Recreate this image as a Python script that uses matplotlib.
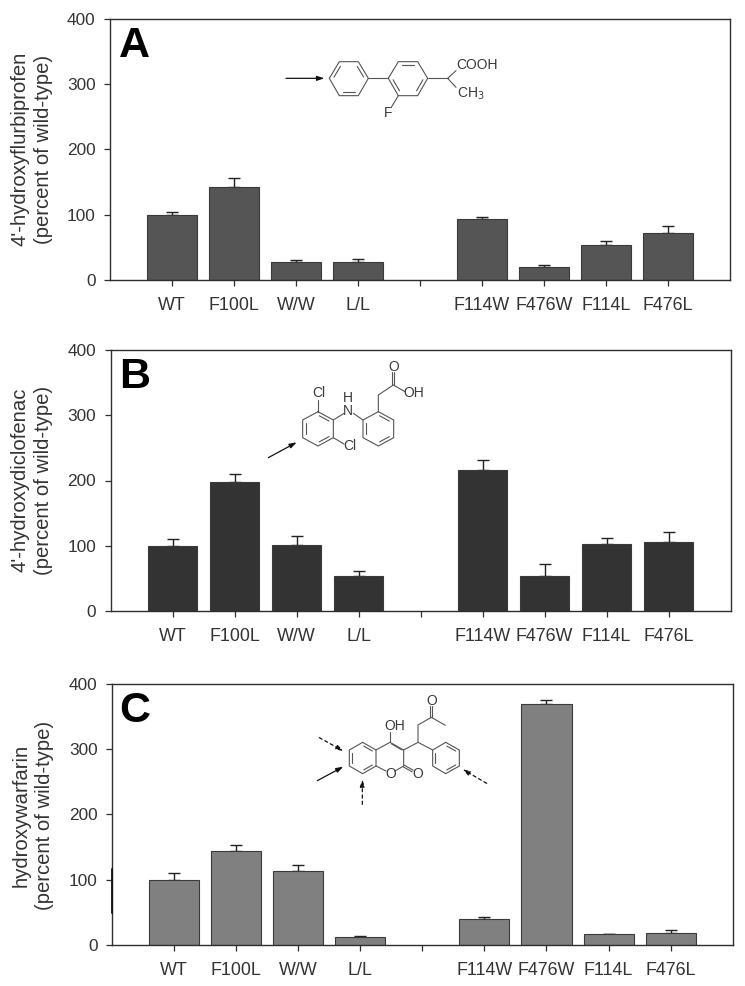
import numpy as np
import matplotlib
matplotlib.use("Agg")
import matplotlib.pyplot as plt

plt.rcParams['font.family'] = ['Liberation Sans', 'DejaVu Sans']

# ---------- data ----------
categories = ['WT', 'F100L', 'W/W', 'L/L', '', 'F114W', 'F476W', 'F114L', 'F476L']
yticks = [0, 100, 200, 300, 400]

values_a = [100, 142, 27, 27, np.nan, 94, 19.5, 53.5, 71.5]
errors_a = [3.5, 14, 4, 5, np.nan, 2.5, 3.5, 6.5, 11.5]

values_b = [100, 197, 101, 54, np.nan, 216, 54, 103.5, 105.5]
errors_b = [11, 13, 14, 7, np.nan, 16, 18.5, 9, 15]

values_c = [99.5, 143.5, 113, 13, np.nan, 39.5, 369.5, 16.5, 18.5]
errors_c = [10.5, 9, 9, 1.5, np.nan, 4, 5.5, 1, 4]

ylabel_a = "4'-hydroxyflurbiprofen\n(percent of wild-type)"
ylabel_b = "4'-hydroxydiclofenac\n(percent of wild-type)"
ylabel_c = "hydroxywarfarin\n(percent of wild-type)"

W, H = 745, 986
fig = plt.figure(figsize=(W / 100, H / 100), dpi=100, facecolor='white')
INK = '#2e2e2e'
TEXT = '#333333'


def panel(box, vals, errs, color, ylabel, ylab_xy, letter, letter_xy):
    l, t, r, b = box
    ax = fig.add_axes([l / W, 1 - b / H, (r - l) / W, (b - t) / H])
    x = np.arange(len(categories))
    ax.bar(x, vals, width=0.806, color=color, edgecolor='#3a3a3a', linewidth=0.8, zorder=2)
    ax.errorbar(x, vals, yerr=[np.zeros(len(vals)), errs], fmt='none', ecolor='#222222',
                elinewidth=1.0, capsize=4.6, capthick=1.0, zorder=1)
    ax.set_xlim(-1, 9)
    ax.set_ylim(0, 400)
    ax.set_xticks(x)
    ax.set_xticklabels(categories)
    ax.set_yticks(yticks)
    ax.tick_params(axis='x', length=4.5, width=0.9, pad=7.5, labelsize=12.9, colors=INK, labelcolor=TEXT)
    ax.tick_params(axis='y', length=4.5, width=0.9, pad=6, labelsize=12.4, colors=INK, labelcolor=TEXT)
    for s in ax.spines.values():
        s.set_linewidth(1.0)
        s.set_color(INK)
    fig.text(ylab_xy[0] / W, 1 - ylab_xy[1] / H, ylabel, rotation=90, ha='center', va='center',
             multialignment='center', fontsize=14.6, color=TEXT, linespacing=1.32)
    fig.text(letter_xy[0] / W, 1 - letter_xy[1] / H, letter, fontsize=31, fontweight='bold',
             color='black', ha='left', va='baseline')
    return ax


panel((110, 18.7, 730, 280), values_a, errors_a, '#555555', ylabel_a, (32, 149), 'A', (119, 57))
panel((110.5, 349.7, 730.5, 611.3), values_b, errors_b, '#333333', ylabel_b, (32, 480), 'B', (119, 388))
panel((112, 683.7, 732.7, 945), values_c, errors_c, '#808080', ylabel_c, (33, 815), 'C', (119, 722))

# ---------- overlay for structural formulas (figure pixel coordinates) ----------
ov = fig.add_axes([0, 0, 1, 1], facecolor='none', zorder=5)
ov.set_xlim(0, W)
ov.set_ylim(H, 0)
ov.axis('off')
BOND = '#555555'


class Mol:
    def __init__(self, ox, oy):
        self.ox, self.oy = ox, oy

    def p(self, x, y):
        return self.ox + x / 3, self.oy + y / 3

    def line(self, *pts):
        xy = np.array([self.p(*q) for q in pts])
        ov.plot(xy[:, 0], xy[:, 1], color=BOND, lw=0.8, solid_capstyle='round')

    def dbl(self, a, b, off=(5, 0)):
        self.line((a[0] - off[0], a[1] - off[1]), (b[0] - off[0], b[1] - off[1]))
        self.line((a[0] + off[0], a[1] + off[1]), (b[0] + off[0], b[1] + off[1]))

    def ring(self, verts, inner):
        v = list(verts)
        self.line(*(v + [v[0]]))
        c = np.mean(np.array(v, float), axis=0)
        for i in inner:
            a = np.array(v[i], float)
            b = np.array(v[(i + 1) % 6], float)
            a2 = c + (a - c) * 0.8
            b2 = c + (b - c) * 0.8
            m = (a2 + b2) / 2
            a3, b3 = m + (a2 - m) * 0.8, m + (b2 - m) * 0.8
            self.line(tuple(a3), tuple(b3))

    def text(self, x, y, s, **kw):
        px, py = self.p(x, y)
        kw.setdefault('ha', 'center')
        ov.text(px, py, s, fontsize=10, color='#3a3a3a', va='center', **kw)

    def arrow(self, a, b, dashed=False):
        ov.annotate('', xy=self.p(*b), xytext=self.p(*a),
                    arrowprops=dict(arrowstyle='-|>,head_length=0.42,head_width=0.14',
                                    color='#111111', lw=0.9, shrinkA=0, shrinkB=0,
                                    linestyle=(0, (2.5, 2.5)) if dashed else '-'))


# Flurbiprofen
m = Mol(90, 0)
m.ring([(718, 235), (748, 185), (805, 185), (835, 235), (805, 287), (748, 287)], [0, 2, 4])
m.ring([(895, 235), (925, 185), (983, 185), (1013, 235), (983, 287), (925, 287)], [1, 3, 5])
m.line((835, 235), (895, 235))
m.line((1013, 235), (1073, 235))
m.line((1098, 212), (1073, 235), (1098, 262))
m.line((925, 287), (905, 320))
m.text(1100, 195, 'COOH', ha='left')
m.text(1100, 281, 'CH$_3$', ha='left')
m.text(893, 338, 'F')
m.arrow((588, 235), (703, 235))

# Diclofenac
m = Mol(90, 340)
m.ring([(684, 215), (730, 240), (730, 293), (684, 318), (638, 293), (638, 240)], [0, 2, 4])
m.ring([(865, 215), (911, 240), (911, 293), (865, 318), (819, 293), (819, 240)], [0, 2, 4])
m.line((730, 240), (762, 220))
m.line((790, 220), (819, 240))
m.line((684, 215), (684, 180))
m.line((730, 293), (762, 312))
m.line((865, 215), (865, 165), (910, 135), (945, 155))
m.dbl((910, 135), (910, 97), off=(3, 0))
m.text(775, 212, 'N')
m.text(775, 175, 'H')
m.text(687, 160, 'Cl')
m.text(780, 318, 'Cl')
m.text(912, 80, 'O')
m.text(970, 160, 'OH')
m.arrow((535, 353), (620, 307))

# Warfarin
m = Mol(90, 670)
m.ring([(818, 217), (858, 240), (858, 288), (818, 311), (778, 288), (778, 240)], [0, 2, 4])
m.line((858, 240), (900, 217), (941, 240), (941, 288), (915, 303))
m.line((888, 303), (858, 288))
m.line((905, 222), (936, 240))
m.dbl((941, 288), (968, 303), off=(1.5, -2.5))
m.line((900, 217), (900, 185))
m.line((941, 240), (984, 217), (984, 165), (1024, 142), (1066, 166))
m.dbl((1024, 142), (1024, 108), off=(3, 0))
m.line((984, 217), (1028, 240))
m.ring([(1067, 217), (1108, 240), (1108, 288), (1067, 311), (1028, 288), (1028, 240)], [0, 2, 4])
m.text(914, 168, 'OH')
m.text(901, 312, 'O')
m.text(983, 311, 'O')
m.text(1024, 94, 'O')
m.arrow((688, 203), (760, 243), dashed=True)
m.arrow((682, 332), (760, 290))
m.arrow((817, 403), (817, 328), dashed=True)
m.arrow((1190, 340), (1118, 298), dashed=True)
m.line((66, 598), (66, 728))
ov.lines[-1].set_color('#111111')
ov.lines[-1].set_linewidth(1.3)

fig.savefig('out.png', dpi=100, facecolor='white')
